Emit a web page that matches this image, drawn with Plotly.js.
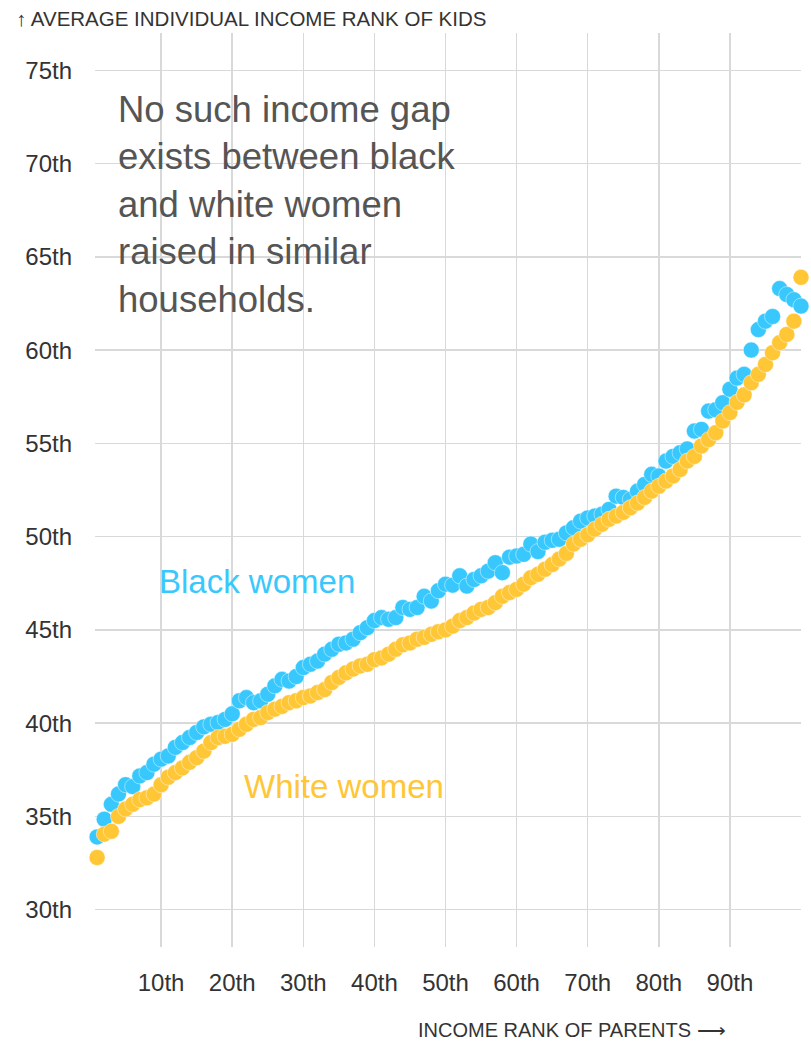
<!DOCTYPE html>
<html>
<head>
<meta charset="utf-8">
<script src="https://cdn.plot.ly/plotly-3.0.1.min.js"></script>
<style>
  html, body { margin: 0; padding: 0; background: #fff; }
  #chart { width: 811px; height: 1042px; }
</style>
</head>
<body>
<div id="chart"></div>
<script>
// Parent income rank (percentile)
const parentRank = [
  1,2,3,4,5,6,7,8,9,10,11,12,13,14,15,16,17,18,19,20,
  21,22,23,24,25,26,27,28,29,30,31,32,33,34,35,36,37,38,39,40,
  41,42,43,44,45,46,47,48,49,50,51,52,53,54,55,56,57,58,59,60,
  61,62,63,64,65,66,67,68,69,70,71,72,73,74,75,76,77,78,79,80,
  81,82,83,84,85,86,87,88,89,90,91,92,93,94,95,96,97,98,99,100
];

// Average individual income rank of kids — black women
const blackWomen = [
  33.9,34.85,35.65,36.2,36.7,36.6,37.17,37.35,37.8,38.07,
  38.24,38.7,38.96,39.23,39.5,39.8,39.94,40.03,40.2,40.5,
  41.2,41.37,41.1,41.2,41.55,42.0,42.35,42.26,42.5,42.98,
  43.16,43.33,43.7,43.96,44.23,44.3,44.5,44.85,45.12,45.5,
  45.66,45.57,45.66,46.2,46.1,46.2,46.8,46.55,47.1,47.45,
  47.4,47.9,47.35,47.7,47.9,48.15,48.6,48.07,48.9,48.96,
  49.05,49.6,49.2,49.7,49.8,49.86,50.2,50.48,50.83,51.0,
  51.1,51.2,51.46,52.17,52.1,52.0,52.44,52.8,53.34,53.25,
  54.05,54.3,54.5,54.7,55.66,55.75,56.73,56.8,57.18,57.9,
  58.5,58.7,60.0,61.1,61.55,61.8,63.3,62.98,62.7,62.36
];

// Average individual income rank of kids — white women
const whiteWomen = [
  32.8,34.05,34.2,35.0,35.4,35.65,35.9,36.0,36.2,36.7,
  37.1,37.35,37.6,37.9,38.15,38.5,38.96,39.23,39.3,39.4,
  39.67,39.94,40.2,40.3,40.57,40.75,40.9,41.1,41.2,41.37,
  41.46,41.64,41.8,42.18,42.45,42.7,42.9,43.07,43.16,43.4,
  43.5,43.7,43.96,44.2,44.3,44.5,44.6,44.76,44.9,45.0,
  45.2,45.5,45.66,45.9,46.1,46.2,46.46,46.8,47.0,47.17,
  47.45,47.8,47.98,48.25,48.5,48.8,49.1,49.6,49.86,50.1,
  50.4,50.66,50.93,51.1,51.3,51.55,51.8,52.1,52.44,52.7,
  52.98,53.25,53.6,54.05,54.3,54.86,55.2,55.57,56.2,56.65,
  57.2,57.6,58.25,58.7,59.23,59.86,60.4,60.84,61.55,63.9
];

const xTickVals = [10,20,30,40,50,60,70,80,90];
const xTickText = ["10th","20th","30th","40th","50th","60th","70th","80th","90th"];
const yTickVals = [30,35,40,45,50,55,60,65,70,75];
const yTickText = ["30th","35th","40th","45th","50th","55th","60th","65th","70th","75th"];

const BLUE = "#38c8fd";
const YELLOW = "#ffc636";
const FONT = "'Liberation Sans', Arial, sans-serif";

const traces = [
  {
    x: parentRank, y: blackWomen, type: "scatter", mode: "markers",
    name: "Black women", cliponaxis: false, hoverinfo: "skip",
    marker: { size: 16, color: BLUE, line: { color: "rgba(255,255,255,0.55)", width: 0.8 } }
  },
  {
    x: parentRank, y: whiteWomen, type: "scatter", mode: "markers",
    name: "White women", cliponaxis: false, hoverinfo: "skip",
    marker: { size: 16, color: YELLOW, line: { color: "rgba(255,255,255,0.55)", width: 0.8 } }
  }
];

const layout = {
  width: 811, height: 1042,
  margin: { l: 95, r: 10, t: 33, b: 95 },
  paper_bgcolor: "#fff", plot_bgcolor: "#fff",
  showlegend: false,
  font: { family: FONT, color: "#333" },
  xaxis: {
    range: [0.7, 100], tickvals: xTickVals, ticktext: xTickText,
    showgrid: true, gridcolor: "#d9d9d9", gridwidth: 1.5,
    zeroline: false, showline: false, ticks: "",
    tickfont: { family: FONT, size: 24, color: "#333" },
    ticklabelstandoff: 19, fixedrange: true
  },
  yaxis: {
    range: [28.0, 77.0], tickvals: yTickVals, ticktext: yTickText,
    showgrid: true, gridcolor: "#d9d9d9", gridwidth: 1.5,
    zeroline: false, showline: false, ticks: "",
    tickfont: { family: FONT, size: 24, color: "#333" },
    ticklabelstandoff: 22, fixedrange: true
  },
  annotations: [
    {
      xref: "paper", yref: "paper", x: -0.1147, y: 1.0164,
      xanchor: "left", yanchor: "middle", showarrow: false,
      text: "↑ AVERAGE INDIVIDUAL INCOME RANK OF KIDS",
      font: { family: FONT, size: 20.5, color: "#333" }
    },
    {
      xref: "paper", yref: "paper", x: 0.8966, y: -0.0908,
      xanchor: "right", yanchor: "middle", showarrow: false,
      text: "INCOME RANK OF PARENTS ⟶",
      font: { family: FONT, size: 20, color: "#333" }
    },
    {
      xref: "paper", yref: "paper", x: 0.0298, y: 0.9409,
      xanchor: "left", yanchor: "top", align: "left", showarrow: false,
      text: "No such income gap<br>exists between black<br>and white women<br>raised in similar<br>households.",
      font: { family: FONT, size: 36.5, color: "#555" }
    },
    {
      xref: "x", yref: "y", x: 23.5, y: 47.6,
      xanchor: "center", yanchor: "middle", showarrow: false,
      text: "Black women",
      font: { family: FONT, size: 33, color: BLUE }
    },
    {
      xref: "x", yref: "y", x: 35.7, y: 36.6,
      xanchor: "center", yanchor: "middle", showarrow: false,
      text: "White women",
      font: { family: FONT, size: 33, color: YELLOW }
    }
  ]
};

Plotly.newPlot("chart", traces, layout, { displayModeBar: false, staticPlot: true });
</script>
</body>
</html>
